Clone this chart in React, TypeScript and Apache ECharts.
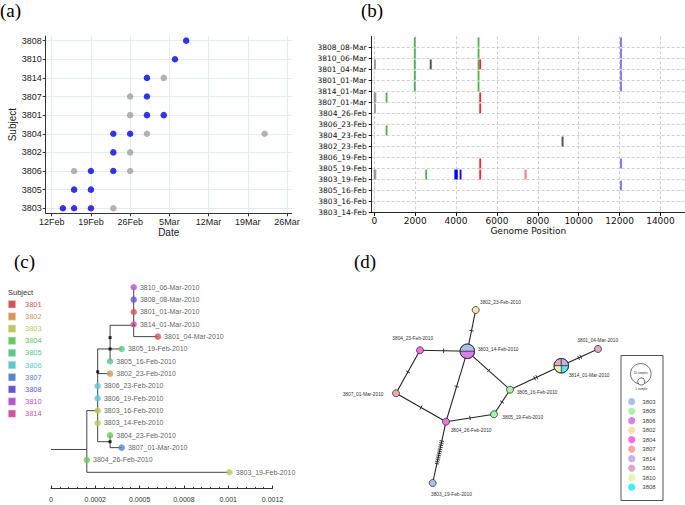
import React, { useEffect, useRef } from "react";
import * as echarts from "echarts";

// ---------- (a) sampling dates ----------
const subjectsA = ["3803", "3805", "3806", "3802", "3804", "3801", "3807", "3814", "3810", "3808"];
const dateTickDates = ["2010-02-12", "2010-02-19", "2010-02-26", "2010-03-05", "2010-03-12", "2010-03-19", "2010-03-26"];
const dateTickLabels = ["12Feb", "19Feb", "26Feb", "5Mar", "12Mar", "19Mar", "26Mar"];
const sequencedSamples: [string, string][] = [
  ["3808", "2010-03-08"], ["3810", "2010-03-06"], ["3814", "2010-03-01"], ["3807", "2010-03-01"],
  ["3801", "2010-03-01"], ["3801", "2010-03-04"], ["3804", "2010-02-23"], ["3804", "2010-02-26"],
  ["3802", "2010-02-23"], ["3806", "2010-02-19"], ["3806", "2010-02-23"], ["3805", "2010-02-16"],
  ["3805", "2010-02-19"], ["3803", "2010-02-14"], ["3803", "2010-02-16"], ["3803", "2010-02-19"],
];
const otherSamples: [string, string][] = [
  ["3814", "2010-03-04"], ["3807", "2010-02-26"], ["3801", "2010-02-26"], ["3804", "2010-03-01"],
  ["3804", "2010-03-22"], ["3802", "2010-02-26"], ["3806", "2010-02-16"], ["3806", "2010-02-26"],
  ["3803", "2010-02-23"],
];

// ---------- (b) genome positions of variants ----------
const genomeRows = [
  "3803_14-Feb", "3803_16-Feb", "3805_16-Feb", "3803_19-Feb", "3805_19-Feb", "3806_19-Feb",
  "3802_23-Feb", "3804_23-Feb", "3806_23-Feb", "3804_26-Feb", "3807_01-Mar", "3814_01-Mar",
  "3801_01-Mar", "3801_04-Mar", "3810_06-Mar", "3808_08-Mar",
];
const genomeTicks = [0, 2000, 4000, 6000, 8000, 10000, 12000, 14000];
const variantsLightGray: [string, number][] = [
  ["3801_04-Mar", 30], ["3807_01-Mar", 20], ["3807_01-Mar", 50], ["3804_26-Feb", 30],
  ["3803_19-Feb", 20], ["3803_19-Feb", 50],
];
const variantsGreen: [string, number][] = [
  ["3808_08-Mar", 1980], ["3810_06-Mar", 1980], ["3801_04-Mar", 1980], ["3801_01-Mar", 1980], ["3814_01-Mar", 1980],
  ["3808_08-Mar", 5100], ["3810_06-Mar", 5100], ["3801_04-Mar", 5100], ["3801_01-Mar", 5100], ["3814_01-Mar", 5100],
  ["3807_01-Mar", 600], ["3804_23-Feb", 600], ["3803_19-Feb", 2540],
];
const variantsDarkGray: [string, number][] = [["3801_04-Mar", 2760], ["3802_23-Feb", 9210]];
const variantsRed: [string, number][] = [
  ["3801_04-Mar", 5180], ["3807_01-Mar", 5180], ["3804_26-Feb", 5180], ["3805_19-Feb", 5180], ["3803_19-Feb", 5180],
];
const variantsLightBlue: [string, number][] = [
  ["3808_08-Mar", 12070], ["3810_06-Mar", 12070], ["3801_04-Mar", 12070], ["3801_01-Mar", 12070],
  ["3814_01-Mar", 12070], ["3805_19-Feb", 12070], ["3805_16-Feb", 12070],
];
const variantsBlue: [string, number][] = [["3803_19-Feb", 3960], ["3803_19-Feb", 4040], ["3803_19-Feb", 4220]];
const variantsPink: [string, number][] = [["3803_19-Feb", 7400]];

// ---------- (c) phylogeny ----------
const treeSubjects = ["3801", "3802", "3803", "3804", "3805", "3806", "3807", "3808", "3810", "3814"];
const treeTickLabels = ["0", "0.0002", "0.0005", "0.0008", "0.001", "0.0012"];
const treeTips: [string, number][] = [
  ["3810_06-Mar-2010", 0.000448], ["3808_08-Mar-2010", 0.000448], ["3801_01-Mar-2010", 0.000448],
  ["3814_01-Mar-2010", 0.000448], ["3801_04-Mar-2010", 0.000579], ["3805_19-Feb-2010", 0.000383],
  ["3805_16-Feb-2010", 0.00032], ["3802_23-Feb-2010", 0.00032], ["3806_23-Feb-2010", 0.000253],
  ["3806_19-Feb-2010", 0.000253], ["3803_16-Feb-2010", 0.000253], ["3803_14-Feb-2010", 0.000253],
  ["3804_23-Feb-2010", 0.00032], ["3807_01-Mar-2010", 0.000383], ["3804_26-Feb-2010", 0.000194],
  ["3803_19-Feb-2010", 0.000967],
];
const treeInternalNodes: [number, number][] = [
  [0.00032, 4.08], [0.00032, 5], [0.000448, 3.08], [0.000253, 6.85], [0.00032, 12.52],
];
const treeBranches: [number, number, number, number][] = [
  [0, 13.15, 0.000194, 13.15], [0.000194, 10, 0.000194, 15], [0.000194, 10, 0.000253, 10],
  [0.000194, 15, 0.000967, 15], [0.000253, 5, 0.000253, 12.52], [0.000253, 12.52, 0.00032, 12.52],
  [0.00032, 12, 0.00032, 13], [0.00032, 13, 0.000383, 13], [0.000253, 7, 0.00032, 7],
  [0.000253, 5, 0.000383, 5], [0.00032, 3.08, 0.00032, 6], [0.00032, 3.08, 0.000448, 3.08],
  [0.000448, 0, 0.000448, 4], [0.000448, 4, 0.000579, 4],
];

// ---------- (d) haplotype network ----------
const netSubjects = ["3803", "3805", "3806", "3802", "3804", "3807", "3814", "3801", "3810", "3808"];
const netNodes = [
  "3803_14-Feb-2010", "3802_23-Feb-2010", "3804_23-Feb-2010", "3807_01-Mar-2010", "3804_26-Feb-2010",
  "3805_16-Feb-2010", "3805_19-Feb-2010", "3814_01-Mar-2010", "3801_04-Mar-2010", "3803_19-Feb-2010",
];
const netNodeMembers = [
  ["3803", "3806"], ["3802"], ["3804"], ["3807"], ["3804"], ["3805"], ["3805"],
  ["3801", "3814", "3808", "3810"], ["3801"], ["3803"],
];
const netEdges: [number, number, number][] = [
  [0, 1, 1], [0, 2, 1], [2, 3, 1], [3, 4, 1], [0, 4, 1], [0, 5, 1], [5, 6, 1], [6, 4, 1],
  [5, 7, 2], [7, 8, 2], [4, 9, 12],
];
// layout of the network drawing (panel units)
const netLayout: [number, number][] = [
  [127.3, 101.3], [135.7, 60], [80, 100.3], [56, 143.3], [106, 171.7],
  [170, 139.7], [154, 164.3], [221.3, 115.7], [258, 99], [92.7, 233],
];
const netLabelLayout: [number, number][] = [
  [137.7, 99.3], [140, 52.3], [52.3, 88.7], [2.7, 144], [110.7, 180.3],
  [176.7, 142.7], [162.3, 167.7], [228.7, 125.3], [237.3, 90], [91, 244],
];
const netNodeRadius = [7.3, 3.5, 3.5, 3.5, 3.5, 3.5, 3.5, 7.3, 3.5, 3.5];

// ---------- styles ----------
const treeColors: Record<string, string> = {
  "3801": "#d25555", "3802": "#d29a55", "3803": "#bccb55", "3804": "#66cc55", "3805": "#55cc85",
  "3806": "#55cccc", "3807": "#5585d2", "3808": "#6655d2", "3810": "#b255d2", "3814": "#d255a5",
};
const netColors: Record<string, string> = {
  "3803": "#a9c0e8", "3805": "#a8f5a8", "3806": "#de7af2", "3802": "#f7e3a3", "3804": "#f76ee6",
  "3807": "#f7a5a5", "3814": "#c6afe8", "3801": "#e3a9c3", "3810": "#e6f7ab", "3808": "#45f2f2",
};

const SANS = "Liberation Sans, Arial, sans-serif";
const DEJAVU = "DejaVu Sans, sans-serif";
const SERIF = "Liberation Serif, Times New Roman, serif";

const dayOf = (d: string) => (Date.parse(d) - Date.parse("2010-02-12")) / 86400000;
const dayTicks = dateTickDates.map(dayOf);

function variantSeries(list: [string, number][], color: string, width: number) {
  return {
    type: "custom",
    xAxisIndex: 1,
    yAxisIndex: 1,
    data: list.map(([row, pos]) => [pos, genomeRows.indexOf(row)]),
    renderItem: (_p: any, api: any) => {
      const x = api.value(0);
      const r = api.value(1);
      const p0 = api.coord([x, r]);
      const p1 = api.coord([x, r + 0.9]);
      return {
        type: "rect",
        shape: { x: p0[0] - width / 2, y: p1[1], width, height: p0[1] - p1[1] },
        style: { fill: color },
      };
    },
    z: 5,
  };
}

export default function App() {
  const ref = useRef<HTMLDivElement>(null);
  useEffect(() => {
    document.body.style.margin = "0";
    const chart = echarts.init(ref.current!, undefined, { renderer: "svg" });

    const graphic: any[] = [
      { type: "text", left: 0, top: 1, style: { text: "(a)", font: `19px ${SERIF}`, fill: "#000" } },
      { type: "text", left: 361, top: 1, style: { text: "(b)", font: `19px ${SERIF}`, fill: "#000" } },
      { type: "text", left: 14, top: 252, style: { text: "(c)", font: `19px ${SERIF}`, fill: "#000" } },
      { type: "text", left: 354, top: 252, style: { text: "(d)", font: `19px ${SERIF}`, fill: "#000" } },
      {
        type: "text", x: 8, y: 292.3,
        style: { text: "Subject", fontSize: 7.5, fontFamily: SANS, fill: "#333", verticalAlign: "middle" },
      },
    ];
    treeSubjects.forEach((s, i) => {
      const y = 304.3 + i * 12.15;
      graphic.push({
        type: "rect", shape: { x: 8.3, y: y - 3.7, width: 7.4, height: 7.4 },
        style: { fill: treeColors[s], stroke: "#f0d8d8", lineWidth: 0.5 },
      });
      graphic.push({
        type: "text", x: 25, y,
        style: { text: s, fontSize: 7.5, fontFamily: SANS, fill: treeColors[s], verticalAlign: "middle" },
      });
    });
    // (d) legend
    graphic.push({ type: "rect", shape: { x: 621, y: 355.5, width: 42, height: 145 }, style: { fill: "#fff", stroke: "#555", lineWidth: 1 } });
    graphic.push({ type: "circle", shape: { cx: 640.8, cy: 373.8, r: 10.3 }, style: { fill: "none", stroke: "#333", lineWidth: 0.7 } });
    graphic.push({ type: "circle", shape: { cx: 641.3, cy: 381.5, r: 3.6 }, style: { fill: "#fff", stroke: "#333", lineWidth: 0.7 } });
    graphic.push({ type: "text", x: 640.8, y: 372.5, style: { text: "10 samples", fontSize: 2.8, fontFamily: SANS, fill: "#333", align: "center", verticalAlign: "middle" } });
    graphic.push({ type: "text", x: 641.3, y: 389, style: { text: "1 sample", fontSize: 3, fontFamily: SANS, fill: "#333", align: "center", verticalAlign: "middle" } });
    netSubjects.forEach((s, i) => {
      const y = 401.7 + i * 9.5;
      graphic.push({ type: "circle", shape: { cx: 631.7, cy: y, r: 3.6 }, style: { fill: netColors[s] } });
      graphic.push({ type: "text", x: 642.3, y, style: { text: s, fontSize: 6, fontFamily: SANS, fill: "#444", verticalAlign: "middle" } });
    });

    const option: any = {
      animation: false,
      backgroundColor: "#fff",
      grid: [
        { left: 45.7, top: 36, width: 246, height: 177.3 },
        { left: 371.7, top: 36.3, right: 0, height: 176.2 },
        { left: 51, top: 287.3, width: 221.5, height: 185 },
        { left: 340, top: 250, width: 345, height: 255 },
      ],
      xAxis: [
        {
          type: "value", gridIndex: 0, min: -1.07, max: 42.83, position: "bottom",
          axisLine: { onZero: false, lineStyle: { color: "#333", width: 1 } },
          axisTick: { customValues: dayTicks, length: 3, lineStyle: { color: "#333" } },
          axisLabel: {
            customValues: dayTicks, margin: 4, fontSize: 9, fontFamily: SANS, color: "#222",
            formatter: (v: number) => dateTickLabels[dayTicks.indexOf(Math.round(v))] ?? "",
          },
          splitLine: { show: true, lineStyle: { color: "#e3ecef", width: 1 } },
          name: "Date", nameLocation: "middle", nameGap: 13,
          nameTextStyle: { fontSize: 10, fontFamily: SANS, color: "#222" },
        },
        {
          type: "value", gridIndex: 1, min: -127, max: 15200, position: "bottom",
          axisLine: { onZero: false, lineStyle: { color: "#111", width: 0.9 } },
          axisTick: { customValues: genomeTicks, length: 3.5, lineStyle: { color: "#111" } },
          axisLabel: {
            customValues: genomeTicks, margin: 4, fontSize: 9, fontFamily: DEJAVU, color: "#111",
            formatter: (v: number) => String(Math.round(v)),
          },
          splitLine: { show: true, lineStyle: { color: "#c4c4c4", type: [3, 2], width: 0.8 } },
          name: "Genome Position", nameLocation: "middle", nameGap: 14,
          nameTextStyle: { fontSize: 9, fontFamily: DEJAVU, color: "#111" },
        },
        {
          type: "value", gridIndex: 2, min: 0, max: 0.0012, interval: 0.00024, offset: 16.2, position: "bottom",
          axisLine: { onZero: false, lineStyle: { color: "#333", width: 1 } },
          axisTick: { inside: true, length: 3, lineStyle: { color: "#333" } },
          minorTick: { show: true, splitNumber: 5, length: 1.6, lineStyle: { color: "#333" } },
          axisLabel: {
            margin: 7, fontSize: 7, fontFamily: SANS, color: "#333",
            formatter: (v: number) => treeTickLabels[Math.round(v / 0.00024)] ?? "",
          },
          splitLine: { show: false },
        },
        { type: "value", gridIndex: 3, min: 0, max: 345, show: false },
      ],
      yAxis: [
        {
          type: "value", gridIndex: 0, min: -0.27, max: 9.25, position: "left",
          axisLine: { show: true, onZero: false, lineStyle: { color: "#333", width: 1 } },
          axisTick: { show: true, customValues: subjectsA.map((_, i) => i), length: 3, lineStyle: { color: "#333" } },
          axisLabel: {
            customValues: subjectsA.map((_, i) => i), margin: 4, fontSize: 9, fontFamily: SANS, color: "#222",
            formatter: (v: number) => subjectsA[Math.round(v)] ?? "",
          },
          splitLine: { show: true, lineStyle: { color: "#e3ecef", width: 1 } },
          name: "Subject", nameLocation: "middle", nameGap: 27,
          nameTextStyle: { fontSize: 10, fontFamily: SANS, color: "#222" },
        },
        {
          type: "value", gridIndex: 1, min: 0, max: 16, position: "left",
          axisLine: { show: true, onZero: false, lineStyle: { color: "#111", width: 0.9 } },
          axisTick: { show: true, customValues: genomeRows.map((_, i) => i), length: 3, lineStyle: { color: "#111" } },
          axisLabel: {
            customValues: genomeRows.map((_, i) => i), margin: 5, fontSize: 7.5, fontFamily: DEJAVU, color: "#111",
            formatter: (v: number) => genomeRows[Math.round(v)] ?? "",
          },
          splitLine: { show: true, lineStyle: { color: "#c4c4c4", type: [3, 2], width: 0.8 } },
        },
        { type: "value", gridIndex: 2, min: 0, max: 15, inverse: true, show: false },
        { type: "value", gridIndex: 3, min: 0, max: 255, inverse: true, show: false },
      ],
      graphic,
      series: [
        // (a)
        {
          type: "scatter", xAxisIndex: 0, yAxisIndex: 0, symbolSize: 6.5,
          itemStyle: { color: "#a0a0a0" },
          data: otherSamples.map(([s, d]) => [dayOf(d), subjectsA.indexOf(s)]),
        },
        {
          type: "scatter", xAxisIndex: 0, yAxisIndex: 0, symbolSize: 6.5,
          itemStyle: { color: "#0000ff" },
          data: sequencedSamples.map(([s, d]) => [dayOf(d), subjectsA.indexOf(s)]),
        },
        // (b)
        variantSeries(variantsLightGray, "#9a9a9a", 2),
        variantSeries(variantsGreen, "#4db04d", 1.8),
        variantSeries(variantsDarkGray, "#555555", 2),
        variantSeries(variantsRed, "#ff2222", 1.8),
        variantSeries(variantsLightBlue, "#8080ff", 2),
        variantSeries(variantsBlue, "#0000ff", 1.8),
        variantSeries(variantsPink, "#ff8080", 2.2),
        // (c)
        {
          type: "custom", xAxisIndex: 2, yAxisIndex: 2, z: 2,
          data: treeBranches,
          renderItem: (_p: any, api: any) => {
            const a = api.coord([api.value(0), api.value(1)]);
            const b = api.coord([api.value(2), api.value(3)]);
            return {
              type: "line",
              shape: { x1: a[0], y1: a[1], x2: b[0], y2: b[1] },
              style: { stroke: "#444", lineWidth: 1 },
            };
          },
        },
        {
          type: "scatter", xAxisIndex: 2, yAxisIndex: 2, symbol: "rect", symbolSize: 3, z: 3,
          itemStyle: { color: "#000" },
          data: treeInternalNodes,
        },
        {
          type: "scatter", xAxisIndex: 2, yAxisIndex: 2, symbolSize: 6.5, z: 4,
          data: treeTips.map(([name, x], i) => ({
            name, value: [x, i], itemStyle: { color: treeColors[name.slice(0, 4)] },
          })),
          label: {
            show: true, position: "right", distance: 3, formatter: "{b}",
            fontSize: 7, fontFamily: SANS, color: "#333",
          },
        },
        // (d)
        {
          type: "custom", xAxisIndex: 3, yAxisIndex: 3, z: 2,
          data: netEdges,
          renderItem: (_p: any, api: any) => {
            const i = api.value(0), j = api.value(1), n = api.value(2);
            const a = api.coord(netLayout[i]);
            const b = api.coord(netLayout[j]);
            const dx = b[0] - a[0], dy = b[1] - a[1];
            const L = Math.hypot(dx, dy);
            const ux = dx / L, uy = dy / L, px = -uy, py = ux;
            const mx = (a[0] + b[0]) / 2, my = (a[1] + b[1]) / 2;
            const children: any[] = [
              { type: "line", shape: { x1: a[0], y1: a[1], x2: b[0], y2: b[1] }, style: { stroke: "#222", lineWidth: 1.1 } },
            ];
            const gap = n > 2 ? 2.1 : 2.4;
            for (let k = 0; k < n; k++) {
              const off = (k - (n - 1) / 2) * gap;
              const cx = mx + ux * off, cy = my + uy * off;
              children.push({
                type: "line",
                shape: { x1: cx - px * 2.2, y1: cy - py * 2.2, x2: cx + px * 2.2, y2: cy + py * 2.2 },
                style: { stroke: "#222", lineWidth: 0.9 },
              });
            }
            return { type: "group", children };
          },
        },
        {
          type: "custom", xAxisIndex: 3, yAxisIndex: 3, z: 3,
          data: netLayout.map((p, i) => [p[0], p[1], i]),
          renderItem: (_p: any, api: any) => {
            const i = api.value(2);
            const c = api.coord([api.value(0), api.value(1)]);
            const lab = api.coord(netLabelLayout[i]);
            const r = netNodeRadius[i];
            const members = netNodeMembers[i];
            const n = members.length;
            const children: any[] = [];
            if (n === 1) {
              children.push({ type: "circle", shape: { cx: c[0], cy: c[1], r }, style: { fill: netColors[members[0]], stroke: "#333", lineWidth: 0.8 } });
            } else {
              members.forEach((m, k) => {
                const s = Math.PI + (k * 2 * Math.PI) / n;
                children.push({
                  type: "sector",
                  shape: { cx: c[0], cy: c[1], r, r0: 0, startAngle: s, endAngle: s + (2 * Math.PI) / n, clockwise: true },
                  style: { fill: netColors[m], stroke: "#333", lineWidth: 0.7 },
                });
              });
              children.push({ type: "circle", shape: { cx: c[0], cy: c[1], r }, style: { fill: "none", stroke: "#333", lineWidth: 0.9 } });
            }
            children.push({
              type: "text",
              style: { text: netNodes[i], x: lab[0], y: lab[1], fontSize: 4.8, fontFamily: SANS, fill: "#333", verticalAlign: "middle", align: "left" },
            });
            return { type: "group", children };
          },
        },
      ],
    };
    chart.setOption(option);
    return () => chart.dispose();
  }, []);
  return <div ref={ref} style={{ position: "fixed", left: 0, top: 0, width: 685, height: 505 }} />;
}
